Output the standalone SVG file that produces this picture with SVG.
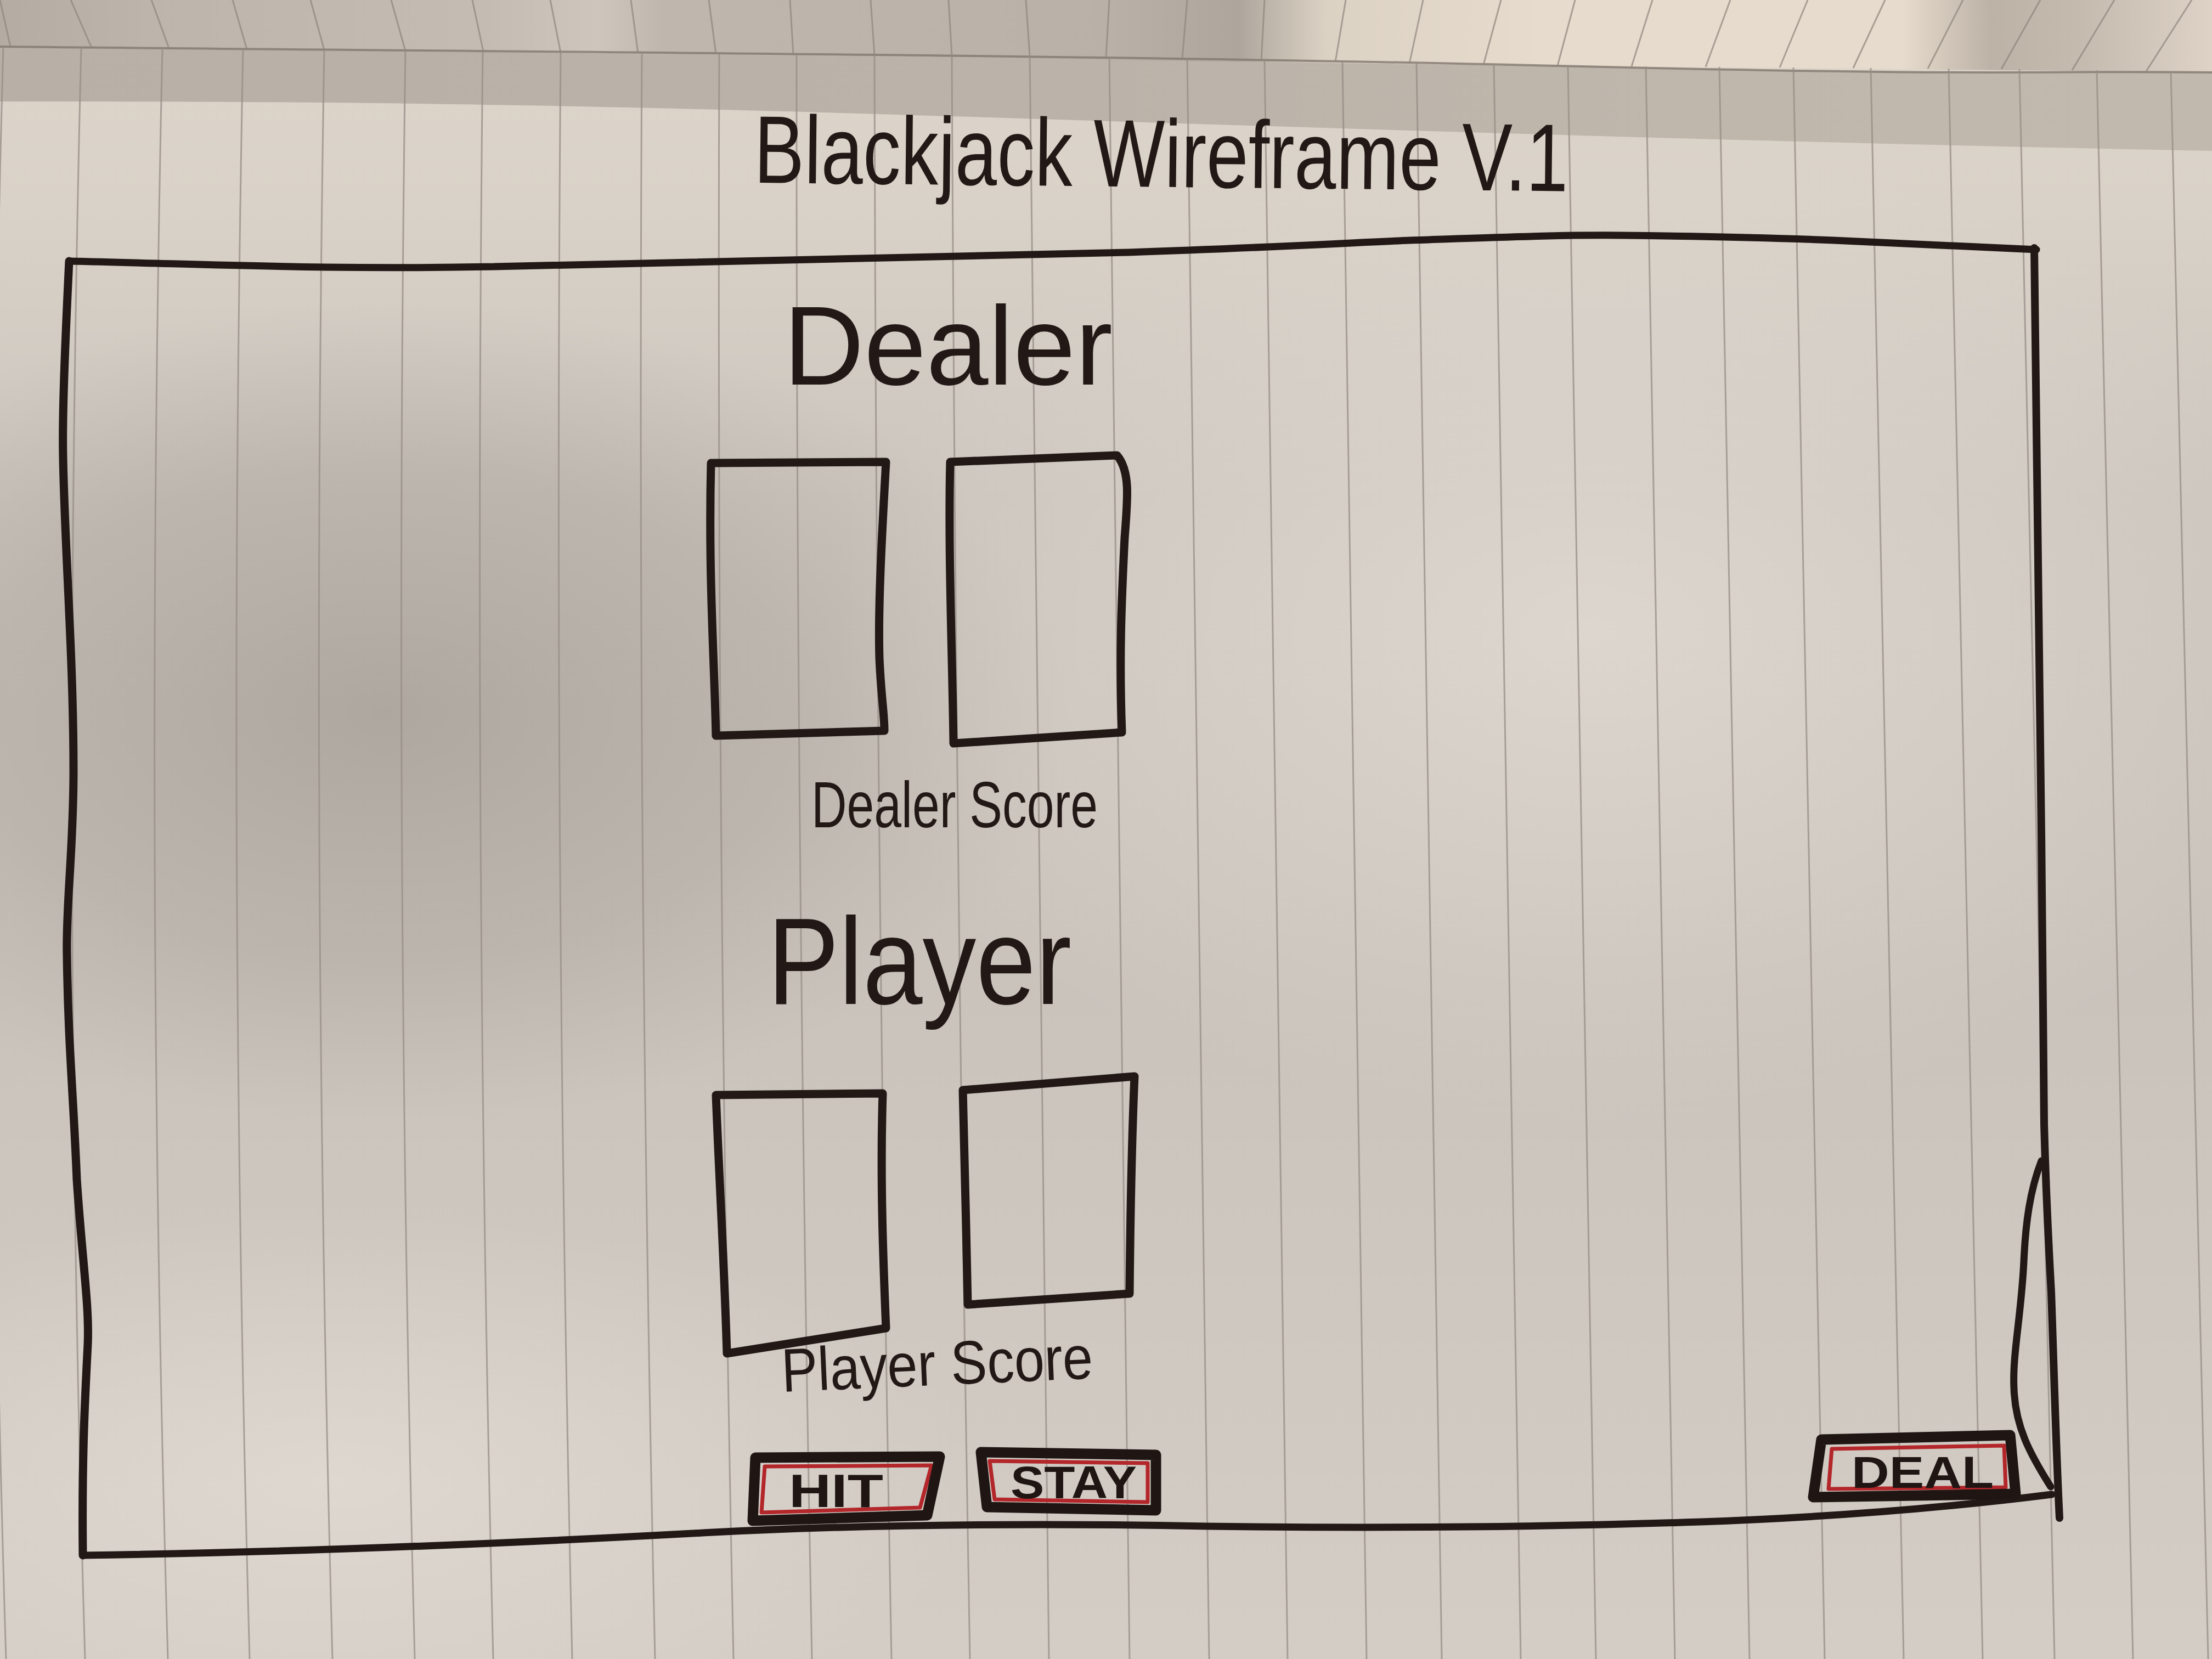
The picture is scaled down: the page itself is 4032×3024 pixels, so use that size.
<svg xmlns="http://www.w3.org/2000/svg" width="4032" height="3024" viewBox="0 0 4032 3024">
<defs>
<style>
.rule{fill:none;stroke:#958d85;stroke-width:3;opacity:.75}
.rule2{fill:none;stroke:#8e857c;stroke-width:3;opacity:.7}
.ink{fill:none;stroke:#221916;stroke-linejoin:round;stroke-linecap:round}
.card{fill:none;stroke:#221916;stroke-width:15;stroke-linejoin:round;stroke-linecap:round}
.btn{fill:none;stroke:#1f1614;stroke-width:19;stroke-linejoin:round}
.btnred{fill:none;stroke:#b3262a;stroke-width:7;stroke-linejoin:round}
.hand{fill:#221916;font-family:"Liberation Sans","DejaVu Sans",sans-serif}
.btxt{fill:#1f1614;font-family:"Liberation Sans","DejaVu Sans",sans-serif;font-weight:bold}
</style>
<linearGradient id="topPage" x1="0" y1="0" x2="1" y2="0">
<stop offset="0" stop-color="#b4aca3"/>
<stop offset="0.07" stop-color="#bdb5ab"/>
<stop offset="0.22" stop-color="#c4bcb2"/>
<stop offset="0.27" stop-color="#cec6bc"/>
<stop offset="0.3" stop-color="#bfb7ad"/>
<stop offset="0.5" stop-color="#b9b1a7"/>
<stop offset="0.56" stop-color="#aea69d"/>
<stop offset="0.6" stop-color="#dcd2c4"/>
<stop offset="0.7" stop-color="#e6dbcc"/>
<stop offset="0.86" stop-color="#e6dbcc"/>
<stop offset="0.9" stop-color="#bcb2a6"/>
<stop offset="0.94" stop-color="#c4baae"/>
<stop offset="1" stop-color="#ddd2c5"/>
</linearGradient>
<linearGradient id="band" x1="0" y1="0" x2="1" y2="0">
<stop offset="0" stop-color="#b8b0a7"/>
<stop offset="0.5" stop-color="#bbb3a9"/>
<stop offset="1" stop-color="#c2b9ae"/>
</linearGradient>
<linearGradient id="vert" x1="0" y1="0" x2="0" y2="1">
<stop offset="0" stop-color="#ddd5ca"/>
<stop offset="0.12" stop-color="#d9d2c8"/>
<stop offset="0.3" stop-color="#cbc5be"/>
<stop offset="0.6" stop-color="#c9c3bc"/>
<stop offset="1" stop-color="#d3cdc6"/>
</linearGradient>
<radialGradient id="dark" cx="0.5" cy="0.5" r="0.5">
<stop offset="0" stop-color="#a49d96" stop-opacity="0.75"/>
<stop offset="0.6" stop-color="#aaa39c" stop-opacity="0.45"/>
<stop offset="1" stop-color="#b0a9a2" stop-opacity="0"/>
</radialGradient>
<radialGradient id="light" cx="0.5" cy="0.5" r="0.5">
<stop offset="0" stop-color="#e3ddd6" stop-opacity="0.7"/>
<stop offset="1" stop-color="#e3ddd6" stop-opacity="0"/>
</radialGradient>
</defs>

<g id="paper">
<rect x="0" y="0" width="4032" height="3024" fill="url(#vert)"/>
<ellipse cx="700" cy="1300" rx="1250" ry="750" fill="url(#dark)"/>
<ellipse cx="2900" cy="1150" rx="1400" ry="900" fill="url(#light)"/>
<ellipse cx="600" cy="2700" rx="1200" ry="500" fill="url(#light)"/>
<path d="M0,85 C1000,95 2000,100 2839,120 S3700,128 4032,132 L4032,275 C3000,255 2200,225 1500,205 S400,185 0,185 Z" fill="url(#band)"/>
<path d="M0,0 H4032 V132 C3700,128 3200,124 2839,120 S1000,95 0,85 Z" fill="url(#topPage)"/>
<path d="M0,85 C1000,95 2000,100 2839,120 S3700,128 4032,132" fill="none" stroke="#81776e" stroke-width="4" opacity="0.8"/>
</g>

<g id="rules-top">
<path class="rule2" d="M0,0 L19,85 M129,0 L167,87 M276,0 L308,88 M424,0 L450,90 M566,0 L591,91 M713,0 L739,93 M861,0 L881,94 M1003,0 L1022,96 M1150,0 L1163,97 M1292,0 L1305,98 M1440,0 L1446,99 M1587,0 L1594,100 M1729,0 L1735,101 M1870,0 L1877,102"/>
<path class="rule2" d="M2022,0 L2016,104 M2164,0 L2155,107 M2305,0 L2299,110 M2453,0 L2434,113 M2594,0 L2569,116 M2736,0 L2704,118 M2871,0 L2839,120 M3012,0 L2974,121 M3154,0 L3109,122 M3295,0 L3244,123 M3436,0 L3378,124 M3578,0 L3514,125 M3719,0 L3648,126 M3854,0 L3777,128 M3995,0 L3912,130"/>
</g>

<g id="rules">
<path class="rule" d="M6,85 Q-35,1555 11,3024"/>
<path class="rule" d="M148,87 Q111,1555 155,3024"/>
<path class="rule" d="M296,88 Q263,1556 306,3024"/>
<path class="rule" d="M443,90 Q414,1557 455,3024"/>
<path class="rule" d="M591,91 Q566,1557 606,3024"/>
<path class="rule" d="M739,93 Q718,1558 756,3024"/>
<path class="rule" d="M880,94 Q863,1559 899,3024"/>
<path class="rule" d="M1022,96 Q1009,1560 1043,3024"/>
<path class="rule" d="M1170,97 Q1161,1560 1194,3024"/>
<path class="rule" d="M1311,98 Q1306,1561 1337,3024"/>
<path class="rule" d="M1452,99 Q1451,1561 1480,3024"/>
<path class="rule" d="M1594,100 Q1597,1562 1625,3024"/>
<path class="rule" d="M1735,101 Q1742,1562 1768,3024"/>
<path class="rule" d="M1877,102 Q1888,1563 1912,3024"/>
<path class="rule" d="M2022,104 Q2037,1564 2059,3024"/>
<path class="rule" d="M2164,107 Q2183,1565 2204,3024"/>
<path class="rule" d="M2305,110 Q2326,1567 2347,3024"/>
<path class="rule" d="M2447,113 Q2469,1568 2491,3024"/>
<path class="rule" d="M2582,116 Q2605,1570 2628,3024"/>
<path class="rule" d="M2723,118 Q2747,1571 2772,3024"/>
<path class="rule" d="M2858,120 Q2883,1572 2909,3024"/>
<path class="rule" d="M3000,121 Q3026,1572 3053,3024"/>
<path class="rule" d="M3134,122 Q3161,1573 3189,3024"/>
<path class="rule" d="M3269,123 Q3298,1573 3326,3024"/>
<path class="rule" d="M3410,124 Q3440,1574 3470,3024"/>
<path class="rule" d="M3552,125 Q3583,1574 3614,3024"/>
<path class="rule" d="M3681,126 Q3713,1575 3745,3024"/>
<path class="rule" d="M3822,128 Q3855,1576 3888,3024"/>
<path class="rule" d="M3957,130 Q3991,1577 4025,3024"/>
</g>

<g id="connectors"></g>

<g id="title">
<text class="hand" x="1374" y="333" font-size="175" textLength="1484" lengthAdjust="spacingAndGlyphs" transform="rotate(0.6 1374 333)">Blackjack Wireframe V.1</text>
</g>

<g id="frame">
<path class="ink" stroke-width="13" d="M126,476 C400,482 600,492 900,486 C1300,478 1700,470 2057,460 C2300,452 2450,443 2571,438 C2750,432 2850,428 2957,429 C3150,431 3250,434 3342,438 C3500,445 3620,450 3712,455"/>
<path class="ink" stroke-width="14" d="M3708,452 C3712,800 3722,1500 3726,2050 C3730,2200 3736,2300 3739,2356 C3744,2500 3748,2650 3754,2767"/>
<path class="ink" stroke-width="15" d="M126,476 C120,600 113,750 115,835 C118,1000 134,1200 134,1404 C134,1550 120,1650 122,1739 C124,1900 134,2000 140,2150 C150,2300 163,2380 160,2450 C155,2550 149,2650 151,2835"/>
<path class="ink" stroke-width="13" d="M151,2835 C500,2830 900,2815 1300,2793 C1600,2778 1900,2776 2200,2782 C2500,2786 2800,2784 3100,2774 C3350,2765 3550,2748 3740,2724"/>
<path class="ink" stroke-width="13" d="M3721,2116 C3700,2170 3692,2230 3689,2300 C3684,2400 3668,2470 3671,2530 C3673,2600 3700,2650 3738,2710"/>
</g>

<g id="dealer-label">
<text class="hand" x="1428" y="701" font-size="205" textLength="600" lengthAdjust="spacingAndGlyphs">Dealer</text>
</g>

<g id="dealer-card-1">
<path class="card" d="M1296,844 L1615,842 C1609,950 1600,1100 1603,1200 C1606,1270 1612,1300 1612,1332 L1305,1341 C1302,1200 1291,1050 1296,844 Z"/>
</g>
<g id="dealer-card-2">
<path class="card" d="M1732,842 L2036,830 C2060,858 2056,905 2050,980 C2044,1100 2040,1200 2045,1335 L1738,1355 C1736,1200 1728,1000 1732,842 Z"/>
</g>

<g id="dealer-score">
<text class="hand" x="1479" y="1508" font-size="118" textLength="522" lengthAdjust="spacingAndGlyphs">Dealer Score</text>
</g>

<g id="player-label">
<text class="hand" x="1399" y="1830" font-size="225" textLength="554" lengthAdjust="spacingAndGlyphs">Player</text>
</g>

<g id="player-card-1">
<path class="card" d="M1305,1996 L1609,1993 C1604,2150 1610,2300 1615,2421 L1325,2467 C1320,2300 1311,2150 1305,1996 Z"/>
</g>
<g id="player-card-2">
<path class="card" d="M1755,1987 L2068,1962 C2062,2100 2060,2250 2059,2358 L1764,2378 C1762,2250 1757,2100 1755,1987 Z"/>
</g>

<g id="player-score">
<text class="hand" x="1426" y="2537" font-size="112" textLength="568" lengthAdjust="spacingAndGlyphs" transform="rotate(-2.5 1426 2537)">Player Score</text>
</g>

<g id="btn-hit">
<path class="btnred" d="M1394,2673 L1698,2671 L1677,2748 L1388,2757 Z"/>
<path class="btn" d="M1377,2657 L1713,2655 L1690,2762 L1372,2772 Z"/>
<text class="btxt" x="1438" y="2747" font-size="86" textLength="172" lengthAdjust="spacingAndGlyphs">HIT</text>
</g>

<g id="btn-stay">
<path class="btnred" d="M1804,2663 L2092,2667 L2092,2738 L1813,2733 Z"/>
<path class="btn" d="M1788,2647 L2107,2652 L2107,2753 L1799,2747 Z"/>
<text class="btxt" x="1842" y="2731" font-size="84" textLength="230" lengthAdjust="spacingAndGlyphs">STAY</text>
</g>

<g id="btn-deal">
<path class="btnred" stroke-width="9" d="M3339,2641 L3653,2635 L3656,2711 L3333,2714 Z"/>
<path class="btn" d="M3320,2624 L3664,2616 L3674,2723 L3305,2729 Z"/>
<text class="btxt" x="3375" y="2712" font-size="82" textLength="259" lengthAdjust="spacingAndGlyphs">DEAL</text>
</g>
</svg>
